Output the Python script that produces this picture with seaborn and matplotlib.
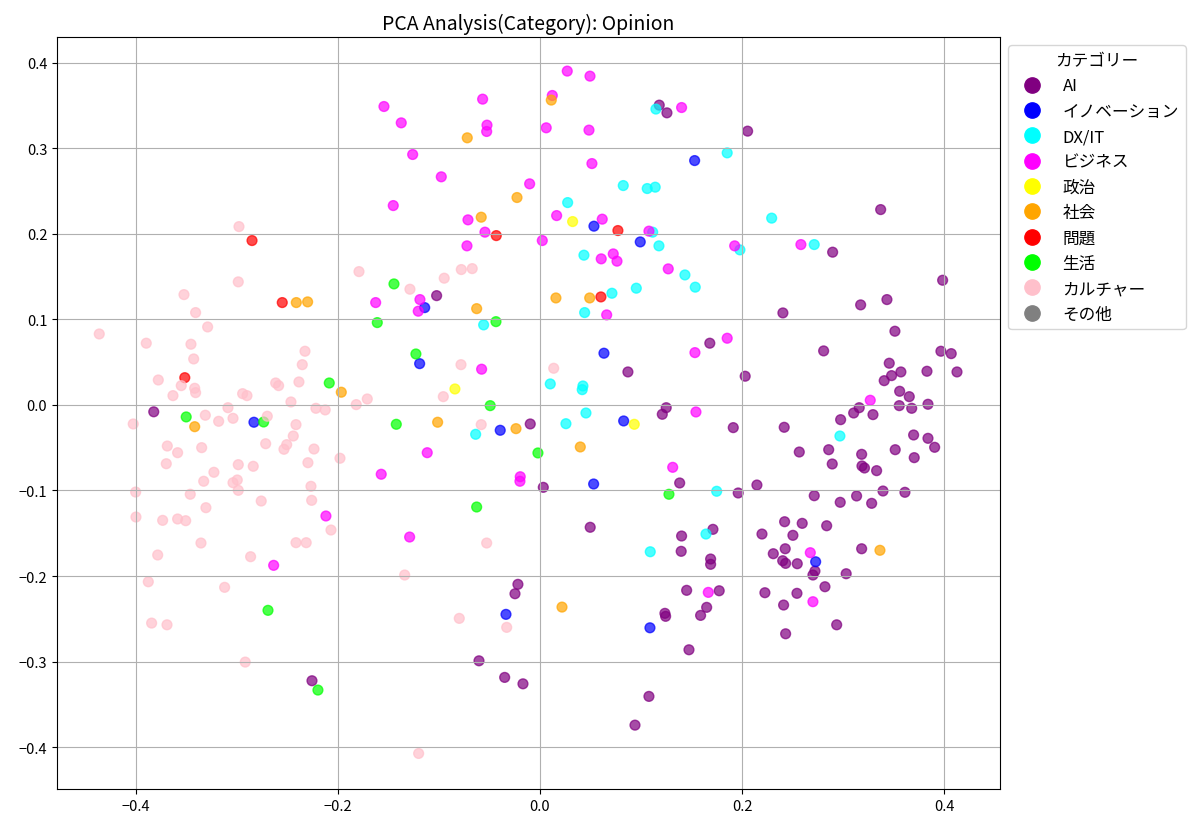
import matplotlib
matplotlib.use("Agg")
import matplotlib.pyplot as plt
import seaborn as sns
import pandas as pd
from matplotlib.lines import Line2D

categories = ["AI", "イノベーション", "DX/IT", "ビジネス", "政治", "社会", "問題", "生活", "カルチャー", "その他"]
colors = ["purple", "blue", "cyan", "magenta", "yellow", "orange", "red", "lime", "pink", "gray"]

ai_x = [-0.382, -0.2255, 0.118, 0.1256, -0.1022, 0.168, 0.087, 0.1249, 0.121, -0.0096, 0.0033, 0.1382, 0.0497, 0.1401,
        0.1397, -0.0218, -0.0247, 0.1451, 0.1236, 0.1243, 0.1589, 0.1649, 0.1474, -0.0603, -0.0349, -0.0168, 0.1078,
        0.094, 0.1688, 0.1688, 0.2054, 0.337, 0.2895, 0.3983, 0.3172, 0.3432, 0.2403, 0.3511, 0.2806, 0.203, 0.3966,
        0.4068, 0.3455, 0.3478, 0.3405, 0.357, 0.3828, 0.4125, 0.3558, 0.3653, 0.3554, 0.3677, 0.3838, 0.3158, 0.3103,
        0.3294, 0.2974, 0.1912, 0.2416, 0.2565, 0.2856, 0.2891, 0.3182, 0.3185, 0.321, 0.333, 0.3514, 0.3696, 0.3838,
        0.3904, 0.3702, 0.1961, 0.2146, 0.2713, 0.297, 0.3132, 0.3281, 0.3393, 0.361, 0.1711, 0.2196, 0.242, 0.2594,
        0.2836, 0.2502, 0.2426, 0.2308, 0.2401, 0.243, 0.2545, 0.272, 0.27, 0.3029, 0.3182, 0.1773, 0.2225, 0.2542,
        0.241, 0.2819, 0.2935, 0.243]
ai_y = [-0.008, -0.3224, 0.3505, 0.3415, 0.1278, 0.0722, 0.0386, -0.0032, -0.0109, -0.0222, -0.0963, -0.0912, -0.143,
        -0.1532, -0.1711, -0.2097, -0.2207, -0.2167, -0.2436, -0.2471, -0.246, -0.2366, -0.2862, -0.2991, -0.3185,
        -0.326, -0.3407, -0.3743, -0.1801, -0.1863, 0.3201, 0.2284, 0.1786, 0.1458, 0.117, 0.1232, 0.1076, 0.0862,
        0.0632, 0.0336, 0.0628, 0.06, 0.0488, 0.0343, 0.0284, 0.0386, 0.0394, 0.0386, 0.016, 0.0097, -0.0008, -0.0039,
        0.0008, -0.0032, -0.0094, -0.0113, -0.0172, -0.0265, -0.0261, -0.055, -0.0523, -0.069, -0.0577, -0.0713,
        -0.0737, -0.0768, -0.0523, -0.0351, -0.039, -0.0495, -0.0616, -0.1029, -0.0936, -0.1061, -0.1138, -0.1064,
        -0.115, -0.1006, -0.1021, -0.1454, -0.1509, -0.1365, -0.1384, -0.1412, -0.1524, -0.1681, -0.1739, -0.1821,
        -0.1852, -0.1856, -0.1942, -0.1988, -0.1973, -0.1681, -0.2172, -0.2195, -0.2202, -0.2339, -0.2125, -0.257,
        -0.2675]

inno_x = [-0.2829, -0.114, -0.119, 0.153, 0.0534, 0.0992, 0.0633, -0.0393, 0.0828, 0.0531, -0.0336, 0.1088, 0.2727]
inno_y = [-0.0202, 0.1138, 0.0483, 0.2857, 0.209, 0.1906, 0.0605, -0.0296, -0.0187, -0.0924, -0.2448, -0.2605, -0.1833]

dx_x = [0.1147, 0.1852, 0.0824, 0.1061, 0.114, 0.2292, 0.0274, 0.1115, 0.1177, 0.1978, 0.2713, 0.0435, 0.1434, 0.1536,
        0.0712, 0.0953, 0.0442, -0.0557, 0.0102, 0.0425, 0.0418, 0.0257, 0.0455, -0.0636, 0.1091, 0.1642, 0.1748, 0.2967]
dx_y = [0.3459, 0.2947, 0.2565, 0.253, 0.2546, 0.2184, 0.2366, 0.202, 0.186, 0.1813, 0.1875, 0.1751, 0.152, 0.1377,
        0.1306, 0.1365, 0.108, 0.0936, 0.0246, 0.0222, 0.0179, -0.0219, -0.0094, -0.0343, -0.1716, -0.1509, -0.1009,
        -0.0363]

biz_x = [-0.1625, -0.157, -0.2117, -0.2634, 0.027, 0.0495, -0.1543, -0.0567, 0.0122, 0.1401, -0.1372, -0.0524, -0.0527,
         0.0062, 0.0485, -0.1259, 0.0514, -0.0976, -0.0102, -0.1451, -0.0712, 0.0165, 0.0616, 0.1078, -0.0544, 0.0023,
         -0.0722, 0.0606, 0.0725, 0.0762, 0.1269, -0.1187, -0.1204, 0.066, 0.1926, 0.2581, 0.1852, 0.1533, -0.0577,
         0.1543, -0.1115, -0.0195, -0.0198, 0.1313, -0.1289, 0.1665, 0.3267, 0.2674, 0.27]
biz_y = [0.1197, -0.081, -0.1298, -0.1875, 0.3903, 0.3844, 0.3489, 0.3575, 0.3618, 0.3477, 0.3298, 0.3271, 0.3197, 0.324,
         0.3213, 0.2928, 0.2822, 0.2667, 0.2585, 0.2331, 0.2164, 0.2214, 0.2172, 0.2032, 0.202, 0.1922, 0.186, 0.1708,
         0.1766, 0.1681, 0.1591, 0.1232, 0.1096, 0.1053, 0.186, 0.1875, 0.078, 0.0612, 0.0418, -0.0082, -0.0558,
         -0.0839, -0.0892, -0.0729, -0.1544, -0.2191, 0.0055, -0.1727, -0.23]

pol_x = [0.0323, -0.0841, 0.0933]
pol_y = [0.2144, 0.0187, -0.0226]

soc_x = [-0.241, -0.2298, -0.1965, -0.3415, 0.0112, -0.0719, -0.0227, -0.0581, -0.0626, 0.0158, 0.0492, -0.1012,
         -0.0237, 0.0399, 0.0218, 0.3363]
soc_y = [0.1197, 0.1205, 0.0149, -0.0254, 0.3564, 0.3123, 0.2425, 0.2195, 0.1126, 0.1251, 0.1251, -0.0202, -0.0277,
         -0.0491, -0.2363, -0.1699]

prob_x = [-0.2848, -0.2549, -0.3513, 0.0771, -0.0432, 0.0603]
prob_y = [0.1922, 0.1197, 0.0319, 0.2039, 0.198, 0.1263]

life_x = [-0.1609, -0.2084, -0.3499, -0.2733, -0.269, -0.2196, -0.1444, -0.0435, -0.1227, -0.0492, -0.1421, -0.002,
          0.1276, -0.0626]
life_y = [0.0963, 0.0257, -0.014, -0.0199, -0.2401, -0.3333, 0.1415, 0.0974, 0.0596, -0.0008, -0.0226, -0.0561,
          -0.1044, -0.1193]

cul_x = [-0.2977, -0.2984, -0.179, -0.3521, -0.3406, -0.3287, -0.4359, -0.3894, -0.3452, -0.3425, -0.2324, -0.2351,
         -0.3775, -0.3548, -0.3415, -0.3406, -0.363, -0.2941, -0.2898, -0.2614, -0.2585, -0.2384, -0.2463, -0.2216,
         -0.2124, -0.1817, -0.1708, -0.331, -0.3086, -0.3178, -0.3036, -0.2697, -0.2413, -0.4023, -0.3686, -0.3584,
         -0.3346, -0.3696, -0.2713, -0.2505, -0.2532, -0.244, -0.2235, -0.1978, -0.2295, -0.2984, -0.2836, -0.3225,
         -0.3326, -0.3036, -0.2994, -0.2984, -0.2265, -0.3999, -0.3459, -0.2757, -0.2258, -0.3304, -0.3996, -0.3732,
         -0.3584, -0.3504, -0.2067, -0.3353, -0.2413, -0.2312, -0.3781, -0.2862, -0.3874, -0.3119, -0.3841, -0.3689,
         -0.2915, -0.0778, -0.067, -0.0947, -0.1286, -0.0781, 0.0136, -0.0956, -0.0581, -0.0527, -0.1338, -0.0798,
         -0.0329, -0.12]
cul_y = [0.2085, 0.1439, 0.1559, 0.129, 0.108, 0.0912, 0.083, 0.0722, 0.071, 0.0538, 0.0628, 0.0471, 0.0292, 0.0226,
         0.0195, 0.0144, 0.0109, 0.0132, 0.0109, 0.0257, 0.0226, 0.0269, 0.0035, -0.0039, -0.0058, 0.0004, 0.007,
         -0.012, -0.0032, -0.0191, -0.0156, -0.0132, -0.023, -0.0222, -0.048, -0.0558, -0.0499, -0.0687, -0.0453,
         -0.0464, -0.0518, -0.0363, -0.0515, -0.0623, -0.0675, -0.0698, -0.0717, -0.0787, -0.0892, -0.0909, -0.0877,
         -0.0998, -0.0951, -0.1018, -0.1044, -0.1123, -0.1115, -0.1201, -0.131, -0.1349, -0.1333, -0.1353, -0.1462,
         -0.1614, -0.161, -0.161, -0.1754, -0.1774, -0.2067, -0.2132, -0.255, -0.257, -0.3006, 0.1583, 0.1594, 0.1482,
         0.1353, 0.0471, 0.0429, 0.0097, -0.023, -0.1614, -0.1988, -0.2495, -0.26, -0.4074]

series = [(ai_x, ai_y), (inno_x, inno_y), (dx_x, dx_y), (biz_x, biz_y), (pol_x, pol_y),
          (soc_x, soc_y), (prob_x, prob_y), (life_x, life_y), (cul_x, cul_y)]

rows = []
for cat, (xs, ys) in zip(categories, series):
    for xv, yv in zip(xs, ys):
        rows.append({"x": xv, "y": yv, "cat": cat})
df = pd.DataFrame(rows)

plt.rcParams['font.family'] = ['Noto Sans CJK JP', 'DejaVu Sans']

fig = plt.figure(figsize=(12, 8.29), dpi=100)
ax = fig.add_axes([0.0475, 0.047, 0.7858, 0.907])
palette = dict(zip(categories, colors))
sns.scatterplot(data=df, x="x", y="y", hue="cat", palette=palette, hue_order=categories[:-1],
                s=50, alpha=0.7, edgecolor="face", linewidth=1, legend=False, ax=ax)
ax.set_xlim(-0.4777, 0.455)
ax.set_ylim(-0.449, 0.430)
ax.set_xticks([-0.4, -0.2, 0.0, 0.2, 0.4])
ax.set_yticks([-0.4, -0.3, -0.2, -0.1, 0.0, 0.1, 0.2, 0.3, 0.4])
ax.set_xlabel("")
ax.set_ylabel("")
ax.grid(True)
ax.tick_params(labelsize=10.5)
ax.set_title("PCA Analysis(Category): Opinion", fontsize=14)

handles = [Line2D([0], [0], marker='o', linestyle='', markerfacecolor=c, markeredgecolor=c,
                  markersize=11, label=cat) for cat, c in zip(categories, colors)]
ax.legend(handles=handles, title="カテゴリー", loc="upper left", bbox_to_anchor=(1.0, 1.0),
          fontsize=12, title_fontsize=12, handletextpad=0.85, labelspacing=0.5)

fig.savefig("out.png", dpi=100)
